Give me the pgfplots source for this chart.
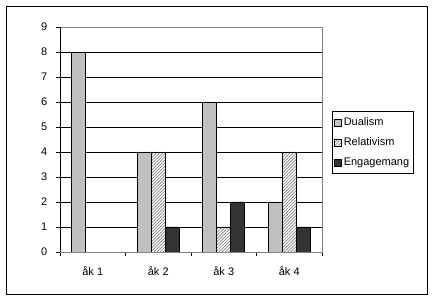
\documentclass[border=0pt]{standalone}
\usepackage{fontspec}
\setmainfont{Liberation Sans}
\usepackage{pgfplots}
\pgfplotsset{compat=1.18}
\usetikzlibrary{patterns.meta}

\definecolor{dual}{RGB}{192,192,192}
\definecolor{eng}{RGB}{51,51,51}

\begin{document}
\fontsize{11bp}{13bp}\selectfont
\begin{tikzpicture}
\begin{axis}[
    scale only axis,
    width=262bp, height=225bp,
    ybar=0pt, bar width=14bp,
    xmin=-0.5, xmax=3.5, ymin=0, ymax=9,
    xtick={0,1,2,3},
    xticklabels={åk 1, åk 2, åk 3, åk 4},
    major x tick style={draw=none},
    minor xtick={-0.5,0.5,1.5,2.5,3.5},
    ytick={0,...,9},
    xtick pos=left, ytick pos=left,
    tick align=outside,
    major tick length=4bp, minor tick length=4bp,
    every tick/.style={black, line width=0.8bp},
    ymajorgrids,
    major grid style={black, line width=0.8bp},
    axis line style={gray, line width=0.8bp},
    xticklabel style={yshift=-7bp},
    yticklabel style={xshift=-5bp},
    /pgf/number format/assume math mode=true,
    tick label style={font=\fontsize{11bp}{13bp}\selectfont},
    legend style={at={(1,0.487)}, anchor=west, xshift=10bp,
        draw=black, line width=0.6bp, font=\fontsize{11bp}{13bp}\selectfont,
        row sep=6.5bp, inner xsep=2bp, inner ysep=4bp,
        cells={anchor=west}},
    legend image code/.code={\draw[#1, line width=0.5bp] (0bp,-3.5bp) rectangle (7bp,3.5bp);},
]
\addplot[fill=dual, draw=black, line width=0.6bp] coordinates {(0,8) (1,4) (2,6) (3,2)};
\addlegendentry{Dualism}
\addplot[fill=white, draw=black, line width=0.6bp,
    postaction={pattern={Lines[angle=45,distance=2.2bp,line width=0.7bp]}, pattern color=gray}]
    coordinates {(1,4) (2,1) (3,4)};
\addlegendentry{Relativism}
\addplot[fill=eng, draw=black, line width=0.6bp] coordinates {(1,1) (2,2) (3,1)};
\addlegendentry{Engagemang}
\draw[black, line width=0.8bp] (rel axis cs:0,1) -- (rel axis cs:0,0) -- (rel axis cs:1,0);
\end{axis}
\path (current axis.south west) ++(-60bp,-48bp) coordinate (pa);
\path (current axis.north east) ++(112bp,27bp) coordinate (pb);
\path (pa) rectangle (pb);
\draw[black, line width=0.8bp] ([shift={(6bp,6bp)}]pa) rectangle ([shift={(-7bp,-6bp)}]pb);
\end{tikzpicture}
\end{document}
